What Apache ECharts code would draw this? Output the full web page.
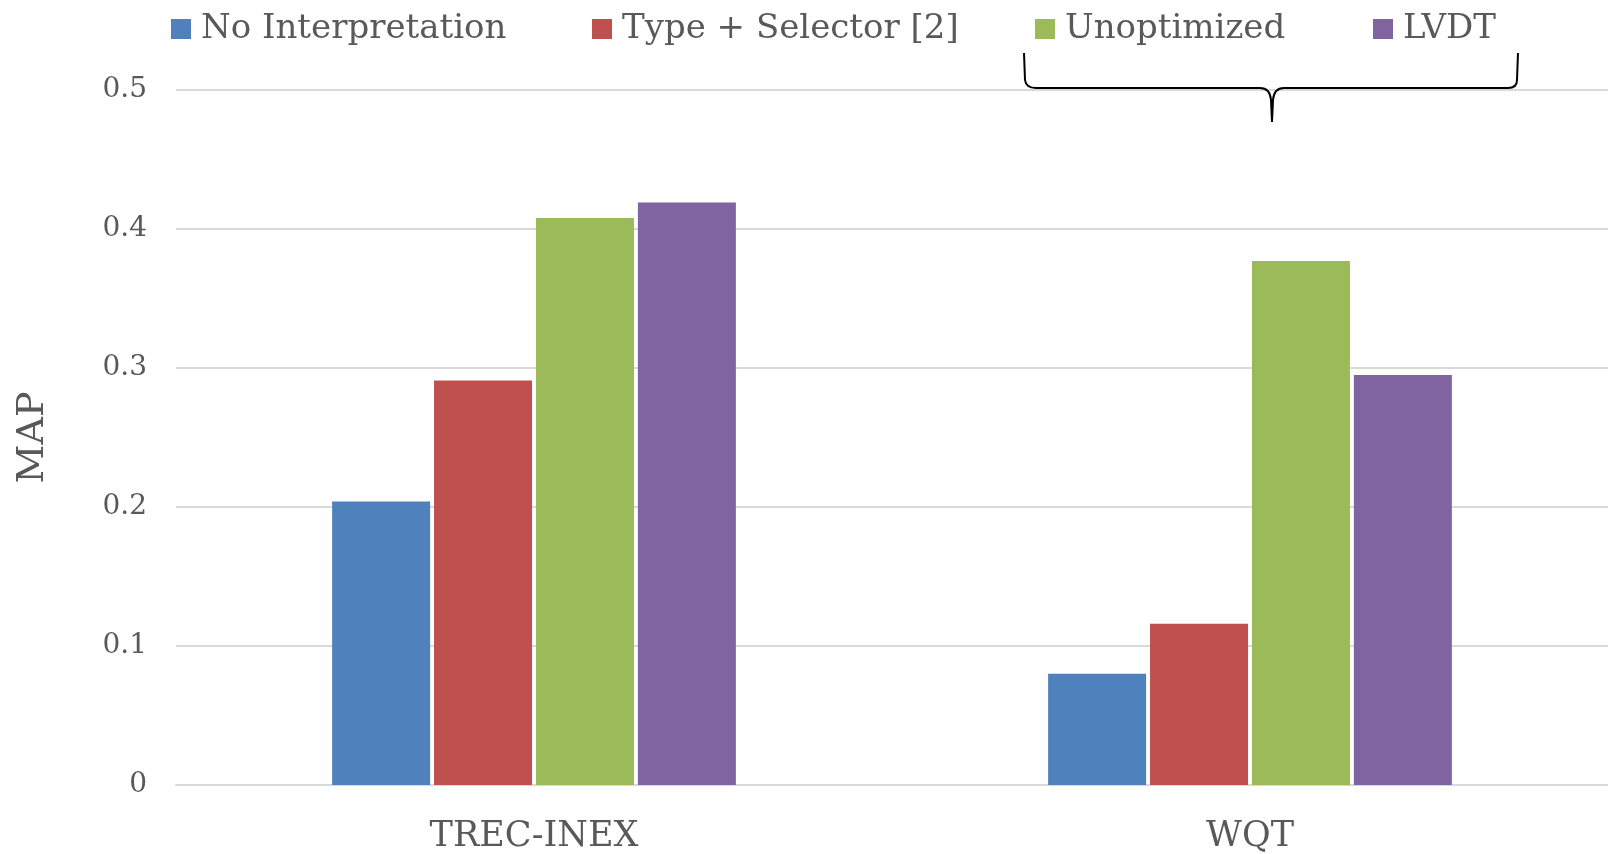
<!DOCTYPE html>
<html>
<head>
<meta charset="utf-8">
<script src="https://cdn.jsdelivr.net/npm/echarts@6/dist/echarts.min.js"></script>
<style>
html,body{margin:0;padding:0;background:#fff;}
#chart{width:1608px;height:854px;}
</style>
</head>
<body>
<div id="chart"></div>
<script>
const categories = ['TREC-INEX', 'WQT'];
const seriesNames = ['No Interpretation', 'Type + Selector [2]', 'Unoptimized', 'LVDT'];
const noInterpretation = [0.204, 0.080];
const typeSelector = [0.291, 0.116];
const unoptimized = [0.408, 0.377];
const lvdt = [0.419, 0.295];
const yTicks = [0, 0.1, 0.2, 0.3, 0.4, 0.5];

const colors = ['#4F81BD', '#C0504D', '#9BBB59', '#8064A2'];
const values = [noInterpretation, typeSelector, unoptimized, lvdt];
const legendLefts = [171, 592, 1035, 1373];
const FONT = '"DejaVu Serif", serif';
const TXT = '#595959';

const chart = echarts.init(document.getElementById('chart'), null, {renderer: 'canvas'});

const legends = seriesNames.map((n, i) => ({
  data: [n],
  left: legendLefts[i],
  top: 12,
  padding: 0,
  itemWidth: 20,
  itemHeight: 20,
  icon: 'rect',
  selectedMode: false,
  textStyle: {color: TXT, fontFamily: FONT, fontSize: 34, padding: [0, 0, 0, 5]}
}));

const series = seriesNames.map((n, i) => ({
  name: n,
  type: 'bar',
  data: values[i],
  barWidth: 98,
  barGap: '4%',
  itemStyle: {color: colors[i]},
  emphasis: {disabled: true}
}));

const braceStyle = {fill: 'none', stroke: '#000', lineWidth: 2};
const brace = [
  {type: 'line', shape: {x1: 1024, y1: 53, x2: 1025, y2: 80}},
  {type: 'bezierCurve', shape: {x1: 1025, y1: 80, cpx1: 1026, cpy1: 88, x2: 1036, y2: 88}},
  {type: 'line', shape: {x1: 1036, y1: 88, x2: 1260, y2: 88}},
  {type: 'bezierCurve', shape: {x1: 1260, y1: 88, cpx1: 1270, cpy1: 88, x2: 1271, y2: 100}},
  {type: 'line', shape: {x1: 1271, y1: 100, x2: 1272, y2: 122}},
  {type: 'line', shape: {x1: 1273, y1: 100, x2: 1272, y2: 122}},
  {type: 'bezierCurve', shape: {x1: 1273, y1: 100, cpx1: 1274, cpy1: 88, x2: 1284, y2: 88}},
  {type: 'line', shape: {x1: 1284, y1: 88, x2: 1508, y2: 88}},
  {type: 'bezierCurve', shape: {x1: 1508, y1: 88, cpx1: 1517, cpy1: 88, x2: 1517, y2: 80}},
  {type: 'line', shape: {x1: 1517, y1: 80, x2: 1518, y2: 53}}
].map(e => Object.assign(e, {style: braceStyle, z: 100, silent: true}));

chart.setOption({
  animation: false,
  backgroundColor: '#fff',
  color: colors,
  legend: legends,
  grid: {left: 176, right: -7, top: 90, bottom: 67, containLabel: false},
  xAxis: {
    type: 'category',
    data: categories,
    axisTick: {show: false},
    axisLine: {show: true, lineStyle: {color: '#D9D9D9', width: 2}},
    axisLabel: {color: TXT, fontFamily: FONT, fontSize: 35, margin: 34}
  },
  yAxis: {
    type: 'value',
    min: 0,
    max: 0.5,
    interval: 0.1,
    name: 'MAP',
    nameLocation: 'middle',
    nameGap: 124,
    nameRotate: 90,
    nameTextStyle: {color: TXT, fontFamily: FONT, fontSize: 38},
    axisLine: {show: false},
    axisTick: {show: false},
    splitLine: {lineStyle: {color: '#D9D9D9', width: 2}},
    axisLabel: {
      color: TXT, fontFamily: FONT, fontSize: 28, margin: 29,
      formatter: v => {
        const t = yTicks.find(x => Math.abs(x - v) < 1e-9);
        return t === 0 ? '0' : String(t);
      }
    }
  },
  graphic: brace,
  series: series
});
</script>
</body>
</html>
